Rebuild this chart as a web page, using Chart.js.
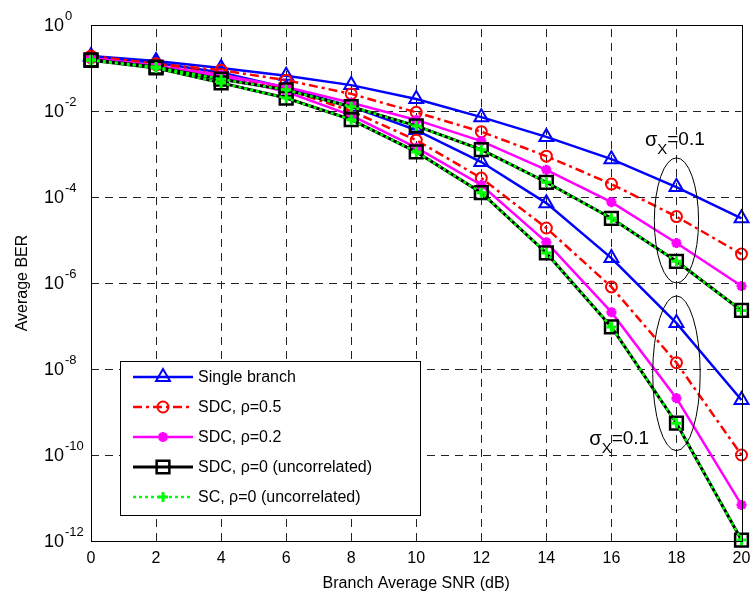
<!DOCTYPE html>
<html lang="en">
<head>
<meta charset="UTF-8">
<title>Average BER vs Branch Average SNR</title>
<script src="https://cdn.jsdelivr.net/npm/chart.js"></script>
<style>
    html, body { margin: 0; padding: 0; background: #fff; }
    #wrap { width: 753px; height: 597px; }
</style>
</head>
<body>
<div id="wrap"><canvas id="berChart" width="753" height="597"></canvas></div>
<script>
    // x values (dB)
    const snr = [0, 2, 4, 6, 8, 10, 12, 14, 16, 18, 20];
    // y tick exponents: 10^-12 ... 10^0
    const yTickExps = [-12, -10, -8, -6, -4, -2, 0];

    // upper group of curves
    const singleA = [0.19, 0.145, 0.1, 0.066, 0.04, 0.019, 0.0072, 0.0025, 7.6e-4, 1.7e-4, 3.2e-5];
    const sdc05A  = [0.19, 0.126, 0.089, 0.052, 0.025, 0.0093, 0.0033, 8.9e-4, 2.0e-4, 3.5e-5, 4.7e-6];
    const sdc02A  = [0.17, 0.112, 0.069, 0.036, 0.0155, 0.0062, 0.002, 4.3e-4, 7.6e-5, 8.5e-6, 8.5e-7];
    const sdc0A   = [0.155, 0.105, 0.055, 0.031, 0.0126, 0.0045, 0.00126, 2.2e-4, 3.2e-5, 3.2e-6, 2.3e-7];
    const sc0A    = [0.155, 0.105, 0.055, 0.031, 0.0126, 0.0045, 0.00126, 2.2e-4, 3.2e-5, 3.2e-6, 2.3e-7];

    // lower group of curves
    const singleB = [0.18, 0.132, 0.079, 0.035, 0.0126, 0.0036, 6.5e-4, 7.2e-5, 3.8e-6, 1.17e-7, 1.9e-9];
    const sdc05B  = [0.174, 0.12, 0.071, 0.032, 0.01, 0.0021, 2.75e-4, 1.9e-5, 8.1e-7, 1.4e-8, 1e-10];
    const sdc02B  = [0.166, 0.112, 0.063, 0.028, 0.0079, 0.0014, 1.9e-4, 8.9e-6, 2.1e-7, 2.1e-9, 6.9e-12];
    const sdc0B   = [0.151, 0.1, 0.045, 0.02, 0.0063, 0.00112, 1.26e-4, 5.0e-6, 9.5e-8, 5.5e-10, 1.05e-12];
    const sc0B    = [0.151, 0.1, 0.045, 0.02, 0.0063, 0.00112, 1.26e-4, 5.0e-6, 9.5e-8, 5.5e-10, 1.05e-12];

    const legendLabels = ['Single branch', 'SDC, \u03c1=0.5', 'SDC, \u03c1=0.2',
        'SDC, \u03c1=0 (uncorrelated)', 'SC, \u03c1=0 (uncorrelated)'];
    const sigmaLabel = '=0.1';

    const FONT = '"Liberation Sans", Arial, Helvetica, sans-serif';

    const styles = [
        { borderColor: '#0000ff', borderWidth: 2.5, borderDash: [], pointStyle: 'triangle', pointRadius: 8, pointBorderWidth: 2, pointBackgroundColor: 'rgba(0,0,0,0)', order: 5 },
        { borderColor: '#ff0000', borderWidth: 2.5, borderDash: [9, 4, 3, 4], pointStyle: 'circle', pointRadius: 5.5, pointBorderWidth: 2, pointBackgroundColor: 'rgba(0,0,0,0)', order: 4 },
        { borderColor: '#ff00ff', borderWidth: 2.5, borderDash: [], pointStyle: 'star', pointRadius: 5, pointBorderWidth: 3, pointBackgroundColor: '#ff00ff', order: 3 },
        { borderColor: '#000000', borderWidth: 3, borderDash: [], pointStyle: 'rect', pointRadius: 9, pointBorderWidth: 2.5, pointBackgroundColor: 'rgba(0,0,0,0)', order: 2 },
        { borderColor: '#00ff00', borderWidth: 2.5, borderDash: [3, 3], pointStyle: 'cross', pointRadius: 5, pointBorderWidth: 3, pointBackgroundColor: '#00ff00', order: 1 }
    ];

    function makeSet(label, values, st) {
        return Object.assign({
            label: label,
            data: values.map((v, i) => ({ x: snr[i], y: v })),
            pointBorderColor: st.borderColor,
            pointHoverRadius: st.pointRadius,
            tension: 0,
            fill: false,
            clip: false
        }, st);
    }

    const groupA = [singleA, sdc05A, sdc02A, sdc0A, sc0A];
    const groupB = [singleB, sdc05B, sdc02B, sdc0B, sc0B];
    const datasets = [];
    groupA.forEach((vals, i) => datasets.push(makeSet(legendLabels[i], vals, styles[i])));
    groupB.forEach((vals, i) => datasets.push(makeSet(legendLabels[i], vals, styles[i])));

    // ellipses around the x=18 markers (center x, half width, top, bottom)
    const ellipses = [
        { x: 18, dx: 0.68, top: 10 ** -3.09, bottom: 10 ** -6.0 },
        { x: 18, dx: 0.73, top: 10 ** -6.3, bottom: 10 ** -9.9 }
    ];
    const sigmaNotes = [
        { x: 17.03, y: 10 ** -2.82 },
        { x: 15.32, y: 10 ** -9.77 }
    ];

    // dashed grid drawn under the lines
    const gridPlugin = {
        id: 'dashGrid',
        beforeDatasetsDraw(chart) {
            const ctx = chart.ctx;
            const a = chart.chartArea;
            const xs = chart.scales.x, ys = chart.scales.y;
            ctx.save();
            ctx.strokeStyle = '#222';
            ctx.lineWidth = 1;
            ctx.setLineDash([8, 6]);
            xs.ticks.forEach(t => {
                const x = Math.round(xs.getPixelForValue(t.value)) + 0.5;
                ctx.beginPath();
                ctx.moveTo(x, a.bottom);
                ctx.lineTo(x, a.top);
                ctx.stroke();
            });
            yTickExps.forEach(e => {
                const y = Math.round(ys.getPixelForValue(10 ** e)) + 0.5;
                ctx.beginPath();
                ctx.moveTo(a.left, y);
                ctx.lineTo(a.right, y);
                ctx.stroke();
            });
            ctx.restore();
        }
    };

    const decorPlugin = {
        id: 'decor',
        afterDatasetsDraw(chart) {
            const ctx = chart.ctx;
            const a = chart.chartArea;
            const xs = chart.scales.x, ys = chart.scales.y;
            ctx.save();

            // axes box
            ctx.strokeStyle = '#000';
            ctx.lineWidth = 1;
            ctx.setLineDash([]);
            ctx.strokeRect(Math.round(a.left) + 0.5, Math.round(a.top) + 0.5,
                Math.round(a.right - a.left), Math.round(a.bottom - a.top));

            // y tick labels as 10^n
            ctx.fillStyle = '#000';
            yTickExps.forEach(e => {
                const y = ys.getPixelForValue(10 ** e);
                ctx.font = '18px ' + FONT;
                ctx.textAlign = 'right';
                ctx.textBaseline = 'middle';
                ctx.fillText('10', 64, y + 1);
                ctx.font = '13px ' + FONT;
                ctx.textAlign = 'left';
                ctx.textBaseline = 'alphabetic';
                ctx.fillText(String(e), 65, y - 5);
            });

            // ellipses
            ctx.lineWidth = 1;
            ctx.strokeStyle = '#000';
            ellipses.forEach(el => {
                const cx = xs.getPixelForValue(el.x);
                const rx = xs.getPixelForValue(el.x + el.dx) - cx;
                const yt = ys.getPixelForValue(el.top);
                const yb = ys.getPixelForValue(el.bottom);
                ctx.beginPath();
                ctx.ellipse(cx, (yt + yb) / 2, rx, (yb - yt) / 2, 0, 0, Math.PI * 2);
                ctx.stroke();
            });

            // sigma_X = 0.1 notes
            sigmaNotes.forEach(n => {
                const px = xs.getPixelForValue(n.x);
                const py = ys.getPixelForValue(n.y);
                ctx.textAlign = 'left';
                ctx.textBaseline = 'alphabetic';
                ctx.font = '20px ' + FONT;
                ctx.fillText('\u03c3', px, py);
                const w1 = ctx.measureText('\u03c3').width;
                ctx.font = '15px ' + FONT;
                ctx.fillText('X', px + w1, py + 8);
                const w2 = ctx.measureText('X').width;
                ctx.font = '19px ' + FONT;
                ctx.fillText(sigmaLabel, px + w1 + w2, py - 1);
            });

            // legend box
            const lx = 120.5, ly = 361.5, lw = 300, lh = 154;
            ctx.fillStyle = '#fff';
            ctx.fillRect(lx, ly, lw, lh);
            ctx.strokeStyle = '#000';
            ctx.lineWidth = 1;
            ctx.strokeRect(lx, ly, lw, lh);
            for (let i = 0; i < 5; i++) {
                const ds = chart.data.datasets[i];
                const y = 377 + i * 30;
                ctx.strokeStyle = ds.borderColor;
                ctx.lineWidth = ds.borderWidth;
                ctx.setLineDash(ds.borderDash || []);
                ctx.beginPath();
                ctx.moveTo(133, y);
                ctx.lineTo(193, y);
                ctx.stroke();
                ctx.setLineDash([]);
                ctx.fillStyle = ds.pointBackgroundColor;
                ctx.strokeStyle = ds.borderColor;
                ctx.lineWidth = ds.pointBorderWidth;
                Chart.helpers.drawPoint(ctx, {
                    pointStyle: ds.pointStyle, radius: ds.pointRadius,
                    rotation: 0, borderWidth: ds.pointBorderWidth
                }, 163, y);
                ctx.fillStyle = '#000';
                ctx.font = '16px ' + FONT;
                ctx.textAlign = 'left';
                ctx.textBaseline = 'middle';
                ctx.fillText(ds.label, 198, y + 1);
            }
            ctx.restore();
        }
    };

    new Chart(document.getElementById('berChart'), {
        type: 'line',
        data: { datasets: datasets },
        options: {
            responsive: false,
            animation: false,
            events: [],
            layout: { padding: { top: 25, right: 7, left: 0, bottom: 0 } },
            plugins: { legend: { display: false }, tooltip: { enabled: false } },
            scales: {
                x: {
                    type: 'linear',
                    min: 0,
                    max: 20,
                    grid: { display: false, drawTicks: false },
                    border: { display: false },
                    ticks: {
                        stepSize: 2,
                        color: '#000',
                        padding: 8,
                        maxRotation: 0,
                        font: { family: FONT, size: 16 }
                    },
                    title: {
                        display: true,
                        text: 'Branch Average SNR (dB)',
                        color: '#000',
                        font: { family: FONT, size: 16 },
                        padding: { top: 0, bottom: 4 }
                    },
                    afterFit(scale) {
                        scale.height = 56;
                        scale.paddingLeft = 0;
                        scale.paddingRight = 0;
                    }
                },
                y: {
                    type: 'logarithmic',
                    min: 1e-12,
                    max: 1,
                    grid: { display: false, drawTicks: false },
                    border: { display: false },
                    ticks: { display: false },
                    afterBuildTicks(scale) {
                        scale.ticks = yTickExps.map(e => ({ value: 10 ** e }));
                    },
                    title: {
                        display: true,
                        text: 'Average BER',
                        color: '#000',
                        font: { family: FONT, size: 16 },
                        padding: { top: 13, bottom: 0 }
                    },
                    afterFit(scale) {
                        scale.width = 91;
                    }
                }
            }
        },
        plugins: [gridPlugin, decorPlugin]
    });
</script>
</body>
</html>
